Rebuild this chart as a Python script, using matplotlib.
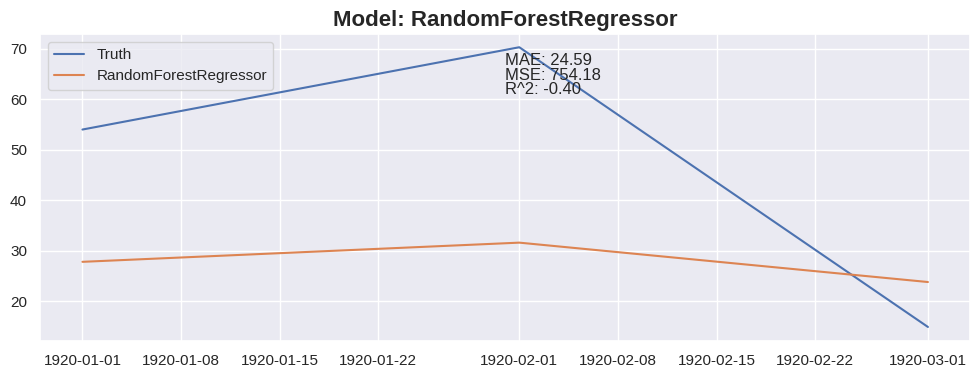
import matplotlib
matplotlib.use("Agg")
import matplotlib.pyplot as plt
import matplotlib.dates as mdates
import seaborn as sns
import pandas as pd

dates = pd.to_datetime(["1920-01-01", "1920-02-01", "1920-03-01"])
truth = [54.0, 70.3, 14.9]
pred = [27.8, 31.6, 23.8]
model_name = "RandomForestRegressor"
metrics_text = "MAE: 24.59\nMSE: 754.18\nR^2: -0.40"
tick_dates = pd.to_datetime(["1920-01-01", "1920-01-08", "1920-01-15", "1920-01-22",
                             "1920-02-01", "1920-02-08", "1920-02-15", "1920-02-22", "1920-03-01"])

sns.set_theme(style="darkgrid")
plt.rcParams['font.family'] = ['Liberation Sans', 'DejaVu Sans']

fig = plt.figure(figsize=(9.8, 3.79), dpi=100)
ax = fig.add_axes([0.041, 0.10, 0.949, 0.81])
ax.plot(dates, truth, label="Truth")
ax.plot(dates, pred, label=model_name)
ax.set_title(f"Model: {model_name}", fontsize=16, fontweight="bold")
ax.set_xticks(tick_dates)
ax.xaxis.set_major_formatter(mdates.DateFormatter("%Y-%m-%d"))
ax.text(pd.Timestamp("1920-01-31"), 69.2, metrics_text, va="top", ha="left",
        fontsize=12, color="#262626", linespacing=0.98)
ax.legend(loc="upper left")
ax.set_ylim(12.1, 72.9)
ax.set_xlim(pd.Timestamp("1920-01-01") - pd.Timedelta(days=3.0),
            pd.Timestamp("1920-03-01") + pd.Timedelta(days=3.0))
fig.savefig("out.png", dpi=100)
